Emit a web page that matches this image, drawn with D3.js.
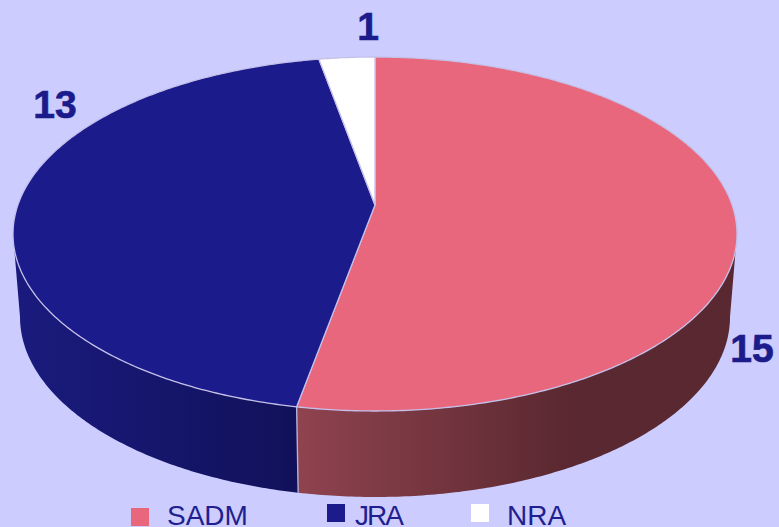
<!DOCTYPE html>
<html><head><meta charset="utf-8">
<script src="https://cdn.jsdelivr.net/npm/d3@7"></script>
<style>html,body{margin:0;padding:0;background:#ccccff;overflow:hidden}svg{display:block}text{font-family:"Liberation Sans",Arial,sans-serif}</style>
</head><body><svg id="c" width="779" height="527"></svg>
<script>
const categories = ["SADM","JRA","NRA"];
const values = [15,13,1];
const topColors = ["#e9677c","#1b1b8b","#ffffff"];
const wallLight = ["#8f434f","#1b1b80"];
const wallDark = ["#5a2830","#11115a"];

const W=779,H=527;
const svg=d3.select("#c");
const defs=svg.append("defs");
const face={cx:375,cy:234,rx:362,ry:177,apexY:205};
const bot={cx:375,cy:317,rx:355,ry:180};
const k=(face.cy-face.apexY)/face.ry;
// perspective map of the unit pie disc onto the top ellipse
function proj(theta){
  const u=Math.sin(theta),v=Math.cos(theta),den=1+k*v;
  return [face.cx+face.rx*Math.sqrt(1-k*k)*u/den, face.cy-face.ry*(v+k)/den];
}
const rad=d3.scaleLinear().domain([0,360]).range([0,2*Math.PI]);
// the source renderer's drawn sweep differs slightly from the nominal one
const warp=d3.scaleLinear().domain([0,186.2,347.6,360]).range([0,190.6,349.5,360]);
const pie=d3.pie().sort(null).value(d=>d)(values);
const toDeg=a=>a*180/Math.PI;
const apex=[face.cx,face.apexY];
const slices=pie.map((d,i)=>({i,a0:rad(warp(toDeg(d.startAngle))),a1:rad(warp(toDeg(d.endAngle)))}));
function arcPts(a0,a1,f){const n=Math.max(4,Math.ceil((a1-a0)/0.01));return d3.range(n+1).map(j=>f(a0+(a1-a0)*j/n));}
const line=d3.line();

function lowerPoint(theta){
  const p=proj(theta);
  const tx=(p[0]-face.cx)/face.rx;
  const x=bot.cx+bot.rx*tx;
  return [x, bot.cy+bot.ry*Math.sqrt(Math.max(0,1-tx*tx))];
}
function findEx(){let best=[0,0];let mn=1e9,mx=-1e9;for(let t=0;t<2*Math.PI;t+=0.001){const p=proj(t);if(p[0]<mn){mn=p[0];best[0]=t}if(p[0]>mx){mx=p[0];best[1]=t}}return best;}
const [leftT,rightT]=findEx();

slices.forEach(s=>{
  if(s.i>1) return;
  const a0=Math.max(s.a0,rightT),a1=Math.min(s.a1,leftT);
  if(a1<=a0) return;
  const gid="g"+s.i;
  const g=defs.append("linearGradient").attr("id",gid).attr("gradientUnits","userSpaceOnUse")
    .attr("x1",0).attr("x2",W).attr("y1",0).attr("y2",0);
  if(s.i===0){
    g.append("stop").attr("offset",297/W).attr("stop-color",wallLight[0]);
    g.append("stop").attr("offset",570/W).attr("stop-color",wallDark[0]);
    g.append("stop").attr("offset",1).attr("stop-color",wallDark[0]);
  } else {
    g.append("stop").attr("offset",0).attr("stop-color",wallLight[1]);
    g.append("stop").attr("offset",297/W).attr("stop-color",wallDark[1]);
  }
  const up=arcPts(a0,a1,proj);
  const low=arcPts(a0,a1,lowerPoint).reverse();
  svg.append("path").attr("d",line(up.concat(low))+"Z").attr("fill",`url(#${gid})`);
});
const seam=slices[0].a1;
svg.append("path").attr("d",line([proj(seam),lowerPoint(seam)])).attr("stroke","#b4b0dc").attr("stroke-width",1.4).attr("fill","none");

slices.forEach(s=>{
  const pts=[apex].concat(arcPts(s.a0,s.a1,proj));
  svg.append("path").attr("d",line(pts)+"Z").attr("fill",topColors[s.i])
    .attr("stroke","#c4c0ea").attr("stroke-width",1.3).attr("stroke-linejoin","round");
});

const labelX=[752,55,368],labelY=[362,118,40];
values.forEach((v,i)=>{
  svg.append("text").attr("x",labelX[i]).attr("y",labelY[i]).attr("text-anchor","middle")
   .attr("font-size",39).attr("font-weight","bold").attr("fill","#1b1b8b")
   .attr("stroke","#1b1b8b").attr("stroke-width",0.7).text(v);
});

const legendSwatchX=[131,327,471],legendSwatchY=[508,504,504],legendTextX=[167,355,507],legendTracking=[0,-2,0];
categories.forEach((n,i)=>{
  svg.append("rect").attr("x",legendSwatchX[i]).attr("y",legendSwatchY[i]).attr("width",18).attr("height",18).attr("fill",topColors[i]);
  svg.append("text").attr("x",legendTextX[i]).attr("y",525).attr("font-size",28).attr("letter-spacing",legendTracking[i]).attr("fill","#1f1f8f").text(n);
});
</script></body></html>
